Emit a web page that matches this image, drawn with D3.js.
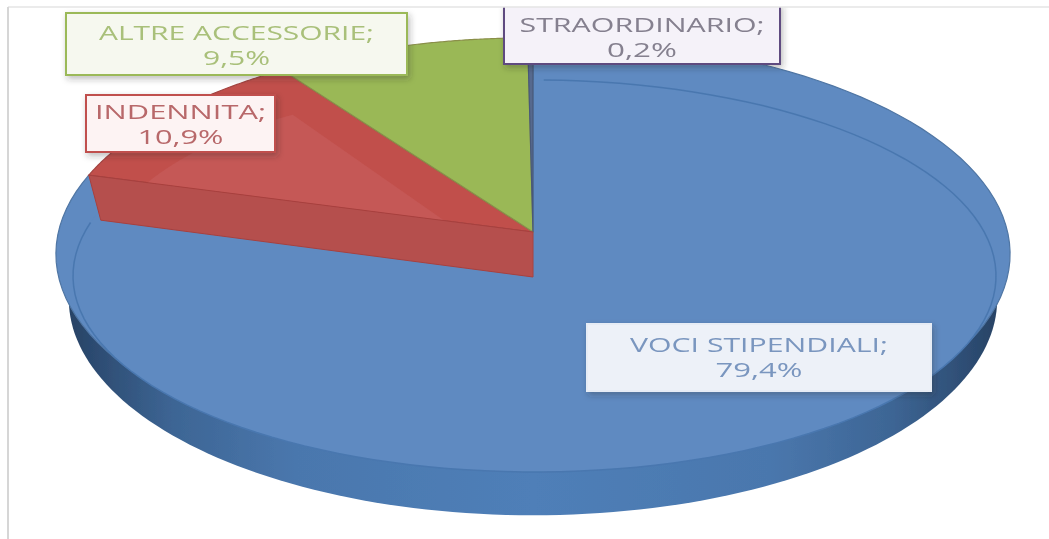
<!DOCTYPE html>
<html>
<head>
<meta charset="utf-8">
<style>
  html, body { margin: 0; padding: 0; background: #fff; }
  svg { display: block; }
  text { font-family: "Open Sans", sans-serif; text-anchor: middle; }
</style>
<script src="https://cdn.jsdelivr.net/npm/d3@7"></script>
</head>
<body>
<svg id="stage" width="1049" height="539"></svg>
<script>
var categories = ['VOCI STIPENDIALI', 'INDENNITA', 'ALTRE ACCESSORIE', 'STRAORDINARIO'],
    values = [79.4, 10.9, 9.5, 0.2],
    faceColors = ['#5e8ac1', '#c1504c', '#9ab857', '#56698e'],
    labelColors = ['#7a96bf', '#b8686a', '#a9c07a', '#85808f'],
    boxFills = ['#edf1f8', '#fdf3f3', '#f6f8ef', '#f5f2f9'],
    borderColors = ['#e6ecf5', '#c0504d', '#9bb958', '#5f4b80'];

// label boxes, same order as categories: box x0, y0, x1, y1, middle of the text and width of each line
var labelBoxes = [
  [587, 324, 931, 391, 357.5, 258, 87],
  [86, 95, 275, 152, 124, 171, 86],
  [66, 13, 407, 75, 45, 275, 67],
  [504, 4, 780, 64, 37.5, 245, 70]
];

var svg = d3.select('#stage'),
    WIDTH = 1049,
    HEIGHT = 539,
    CX = 533,
    APEX_Y = 232,
    RX = 474.6,
    RY = 214,
    TILT = 0.102,
    DEPTH = 45,
    BOTTOM_SHRINK = 0.973,
    SAMPLES = 120;

var comma = d3.formatLocale({ decimal: ',', thousands: '.', grouping: [3], currency: ['', ''] }).format('.1f');

var xTop = d3.scaleLinear().domain([-1, 1]).range([CX - RX, CX + RX]),
    yTop = d3.scaleLinear().domain([-1, 1]).range([APEX_Y + RY, APEX_Y - RY]),
    xBottom = d3.scaleLinear().domain([-1, 1]).range([CX - RX * BOTTOM_SHRINK, CX + RX * BOTTOM_SHRINK]),
    yBottom = d3.scaleLinear().domain([-1, 1]).range([APEX_Y + DEPTH + RY, APEX_Y + DEPTH - RY]),
    bevelX = d3.scaleLinear().domain([-1, 1]).range([73, 996]),
    bevelY = d3.scaleLinear().domain([-1, 1]).range([472, 80]);

function project(angle, r, bottom) {
  var u = r * Math.sin(angle),
      v = r * Math.cos(angle),
      w = 1 + TILT * v;
  return bottom ? [xBottom(u / w), yBottom(v / w)] : [xTop(u / w), yTop(v / w)];
}

function arcPoints(a0, a1, r, bottom) {
  return d3.range(SAMPLES + 1).map(function (i) {
    return project(a0 + (a1 - a0) * i / SAMPLES, r, bottom);
  });
}

function bevelPoints(a0, a1) {
  return d3.range(SAMPLES + 1).map(function (i) {
    var a = a0 + (a1 - a0) * i / SAMPLES;
    return [bevelX(Math.sin(a)), bevelY(Math.cos(a))];
  });
}

var line = d3.line();

var slices = d3.pie().sort(null).value(function (d) { return d; })(values);

var defs = svg.append('defs');

var sideGrad = defs.append('linearGradient')
  .attr('id', 'side')
  .attr('gradientUnits', 'userSpaceOnUse')
  .attr('x1', xTop(-1)).attr('x2', xTop(1)).attr('y1', 0).attr('y2', 0);
[[0, '#263f60'], [0.04, '#2d4c72'], [0.12, '#3d6594'], [0.25, '#4a77ad'], [0.5, '#4f7fb8'], [0.75, '#4a77ad'], [0.88, '#3d6594'], [0.96, '#2d4c72'], [1, '#263f60']]
  .forEach(function (s) {
    sideGrad.append('stop').attr('offset', s[0]).attr('stop-color', s[1]);
  });

var shadow = defs.append('filter').attr('id', 'shadow')
  .attr('x', '-10%').attr('y', '-20%').attr('width', '125%').attr('height', '150%');
shadow.append('feDropShadow')
  .attr('dx', 2).attr('dy', 3).attr('stdDeviation', 3)
  .attr('flood-color', '#333').attr('flood-opacity', 0.3);

defs.append('filter').attr('id', 'soft')
  .append('feGaussianBlur').attr('stdDeviation', 0.6);

var pie3d = svg.append('g').attr('filter', 'url(#soft)');

// rim, from right round the front to the left, its top edge is hidden by the face
var blue = slices[0],
    red = slices[1];
pie3d.append('path')
  .attr('d', line(arcPoints(Math.PI * 0.5, Math.PI * 1.5, 1, true)) + 'Z')
  .attr('fill', 'url(#side)');

// big slice first
pie3d.append('path')
  .attr('d', line([project(0, 0, false)].concat(arcPoints(blue.startAngle, blue.endAngle, 1, false))) + 'Z')
  .attr('fill', faceColors[0])
  .attr('stroke', d3.color(faceColors[0]).darker(0.45))
  .attr('stroke-width', 1.2);

// inner surface of the big slice, this sets the front edge of the rim
pie3d.append('path')
  .attr('d', line(bevelPoints(0, 2 * Math.PI)) + 'Z')
  .attr('fill', faceColors[0]);
pie3d.append('path')
  .attr('d', line(bevelPoints(blue.startAngle + 0.02, blue.endAngle)))
  .attr('fill', 'none')
  .attr('stroke', '#4a77af')
  .attr('stroke-width', 1.5);

// the other top faces
slices.slice(1).forEach(function (d, k) {
  var color = faceColors[k + 1];
  pie3d.append('path')
    .attr('d', line([project(0, 0, false)].concat(arcPoints(d.startAngle, d.endAngle, 1, false))) + 'Z')
    .attr('fill', color)
    .attr('stroke', k === 1 ? '#8a8f4a' : d3.color(color).darker(0.45))
    .attr('stroke-width', 1.2);
});

// lighter inner part of the red slice
var inner = d3.range(SAMPLES + 1).map(function (i) {
  var t = i / SAMPLES,
      a = red.startAngle + (red.endAngle - red.startAngle) * 0.8 * t;
  return project(a, 0.865 - 0.075 * t, false);
});
pie3d.append('path')
  .attr('d', line([project(red.startAngle, 0.195, false)].concat(inner)) + 'Z')
  .attr('fill', '#c55856');

// cut face of the red slice
pie3d.append('path')
  .attr('d', line([
    project(0, 0, false),
    project(red.startAngle, 1, false),
    project(red.startAngle, 1, true),
    project(0, 0, true)
  ]) + 'Z')
  .attr('fill', '#b5504e')
  .attr('stroke', '#a8403e')
  .attr('stroke-width', 1);

// data labels
slices.forEach(function (d, i) {
  var b = labelBoxes[i],
      mid = (b[0] + b[2]) / 2,
      g = svg.append('g');

  g.append('rect')
    .attr('x', b[0]).attr('y', b[1])
    .attr('width', b[2] - b[0]).attr('height', b[3] - b[1])
    .attr('fill', boxFills[i])
    .attr('stroke', borderColors[i])
    .attr('stroke-width', 2)
    .attr('filter', 'url(#shadow)');

  var rows = [categories[i] + ';', comma(values[i]) + '%'],
      rowGap = 25;

  rows.forEach(function (t, k) {
    g.append('text')
      .text(t)
      .attr('x', mid)
      .attr('y', b[4] + (k - 0.5) * rowGap)
      .attr('dy', '0.36em')
      .attr('font-size', 20)
      .attr('textLength', b[5 + k])
      .attr('lengthAdjust', 'spacingAndGlyphs')
      .attr('fill', labelColors[i])
      .attr('filter', 'url(#soft)');
  });
});

// picture frame goes last, it trims the label that runs off the top
svg.append('rect').attr('x', 0).attr('y', 0).attr('width', WIDTH).attr('height', 7).attr('fill', '#fff');
svg.append('line').attr('x1', 8).attr('x2', WIDTH).attr('y1', 7).attr('y2', 7)
  .attr('stroke', '#e4e4e4').attr('stroke-width', 1.5);
svg.append('line').attr('x1', 8).attr('x2', 8).attr('y1', 7).attr('y2', HEIGHT)
  .attr('stroke', '#d6d6d6').attr('stroke-width', 2);
</script>
</body>
</html>
